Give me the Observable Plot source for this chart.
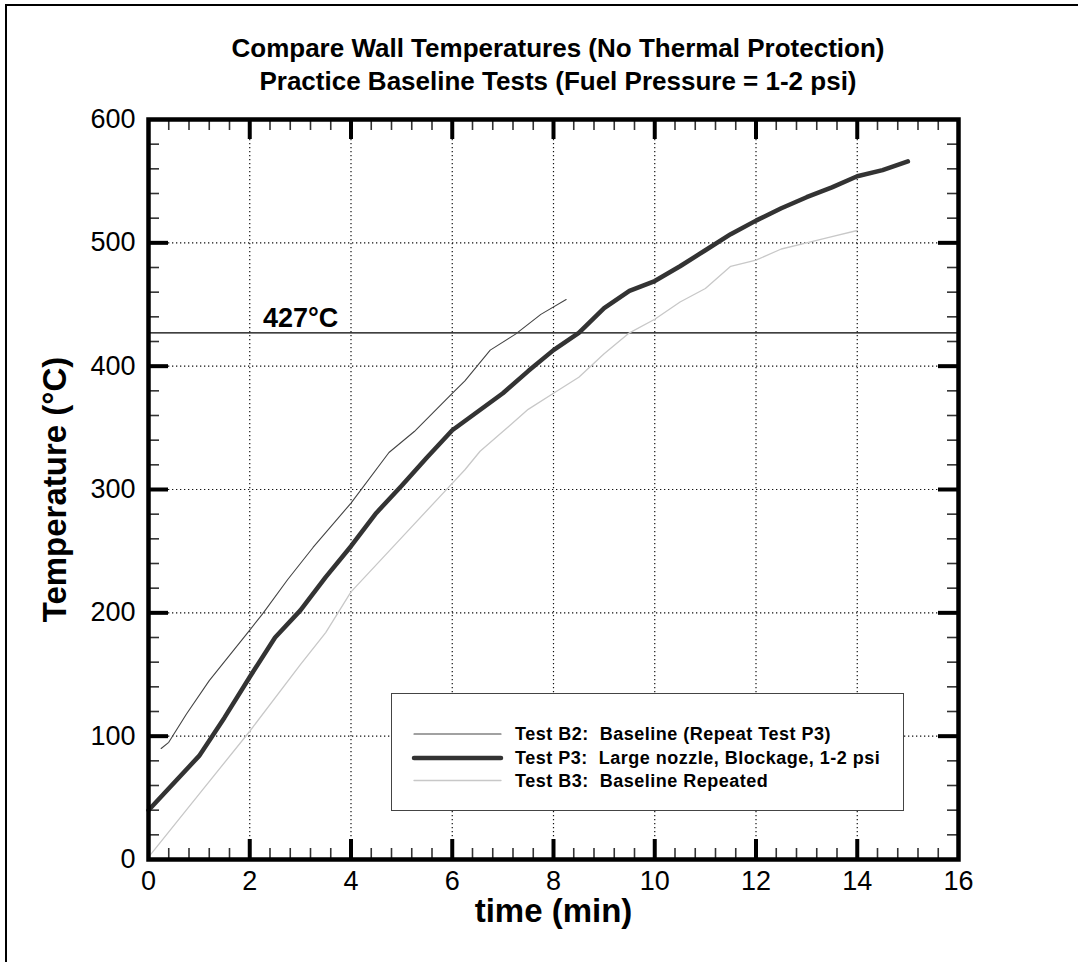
<!DOCTYPE html>
<html>
<head>
<meta charset="utf-8">
<script src="https://cdn.jsdelivr.net/npm/d3@7"></script>
<script src="https://cdn.jsdelivr.net/npm/@observablehq/plot@0.6"></script>
<style>
  html, body { margin: 0; padding: 0; background: #fff; }
  body { font-family: "Liberation Sans", Arial, sans-serif; }
  #wrap { position: relative; width: 1078px; height: 962px; overflow: hidden; background: #fff; }
  #frame { position: absolute; left: 5px; top: 4px; width: 1200px; height: 1200px;
           border-left: 2.5px solid #000; border-top: 2.5px solid #000; box-sizing: border-box; }
  #title { position: absolute; left: 0; top: 32px; width: 1116px; text-align: center;
           font-weight: bold; font-size: 26px; line-height: 33px; color: #000; }
  #chart { position: absolute; left: 0; top: 100px; }
  #legend { position: absolute; left: 391px; top: 693px; width: 513px; height: 118px;
            box-sizing: border-box; border: 1.2px solid #444; background: #fff; }
  #legend svg { position: absolute; left: 0; top: 0; }
</style>
</head>
<body>
<div id="wrap">
  <div id="frame"></div>
  <div id="title">Compare Wall Temperatures (No Thermal Protection)<br>Practice Baseline Tests (Fuel Pressure = 1-2 psi)</div>
  <div id="chart"></div>
  <div id="legend"></div>
</div>
<script>
// ---------------- data ----------------
const seriesNames = [
  "Test B2:  Baseline (Repeat Test P3)",
  "Test P3:  Large nozzle, Blockage, 1-2 psi",
  "Test B3:  Baseline Repeated"
];

const b2Time = [0.25, 0.4, 0.75, 1.2, 2, 2.25, 2.75, 3.25, 3.75, 4, 4.75, 5.25, 6, 6.25, 6.75, 7.25, 7.75, 8.25];
const b2Temp = [90, 95, 118, 145, 186, 199, 227, 253, 277, 289, 330, 347, 378, 388, 413, 426, 442, 454];

const p3Time = [0, 1, 1.5, 2, 2.5, 3, 3.5, 4, 4.5, 5, 5.5, 6, 6.5, 7, 7.5, 8, 8.5, 9, 9.5, 10, 10.5, 11, 11.5, 12, 12.5, 13, 13.5, 14, 14.5, 15];
const p3Temp = [40, 84, 115, 148, 180, 202, 229, 254, 281, 303, 326, 348, 363, 378, 396, 413, 427, 447, 461, 469, 481, 494, 507, 518, 528, 537, 545, 554, 559, 566];

const b3Time = [0, 1, 2, 3, 3.5, 4, 5, 6, 6.25, 6.55, 7, 7.5, 8, 8.5, 9, 9.5, 10, 10.5, 11, 11.5, 12, 12.5, 13, 13.5, 14];
const b3Temp = [2, 53, 104, 158, 184, 217, 261, 305, 316, 331, 347, 365, 378, 391, 410, 427, 438, 452, 463, 481, 486, 495, 500, 505, 510];

const refTemp = 427;
const refLabelTime = 2.26;

const xTickLabels = [0, 2, 4, 6, 8, 10, 12, 14, 16];
const yTickLabels = [0, 100, 200, 300, 400, 500, 600];
const xMajorInner = [2, 4, 6, 8, 10, 12, 14];
const yMajorInner = [100, 200, 300, 400, 500];
const xMinor = d3.range(0, 41).filter(i => i % 5 !== 0).map(i => i * 0.4);
const yMinor = d3.range(0, 31).filter(i => i % 5 !== 0).map(i => i * 20);

const xLabel = "time (min)";
const yLabel = "Temperature (°C)";

// ---------------- layout ----------------
const W = 1078, H = 862, mL = 148, mR = 120, mT = 19, mB = 103;
const fW = W - mL - mR, fH = H - mT - mB;
const majorLen = 20, minorLen = 11;

const toRows = (t, v) => t.map((d, i) => ({t: d, v: v[i]}));
const b2 = toRows(b2Time, b2Temp);
const p3 = toRows(p3Time, p3Temp);
const b3 = toRows(b3Time, b3Temp);

const grid = {stroke: "#111", strokeWidth: 1.2, strokeDasharray: "1.3,2.7"};

const chart = Plot.plot({
  width: W, height: H,
  marginLeft: mL, marginRight: mR, marginTop: mT, marginBottom: mB,
  style: {fontFamily: "'Liberation Sans', Arial, sans-serif", background: "transparent", color: "#000"},
  x: {domain: [0, 16], axis: null},
  y: {domain: [0, 600], axis: null},
  marks: [
    // grid
    Plot.ruleX(xMajorInner, {x: d => d, ...grid}),
    Plot.ruleY(yMajorInner, {y: d => d, ...grid}),
    // reference line
    Plot.ruleY([refTemp], {y: d => d, stroke: "#000", strokeWidth: 1.3}),
    // series
    Plot.line(b3, {x: "t", y: "v", stroke: "#c8c8c8", strokeWidth: 1.3, strokeLinejoin: "round"}),
    Plot.line(b2, {x: "t", y: "v", stroke: "#444", strokeWidth: 1.1, strokeLinejoin: "round"}),
    Plot.line(p3, {x: "t", y: "v", stroke: "#333", strokeWidth: 4.5, strokeLinejoin: "round", strokeLinecap: "round"}),
    // minor ticks
    Plot.ruleX(xMinor, {x: d => d, insetTop: fH - minorLen, stroke: "#333", strokeWidth: 1.6}),
    Plot.ruleX(xMinor, {x: d => d, insetBottom: fH - minorLen, stroke: "#333", strokeWidth: 1.6}),
    Plot.ruleY(yMinor, {y: d => d, insetRight: fW - minorLen, stroke: "#333", strokeWidth: 1.6}),
    Plot.ruleY(yMinor, {y: d => d, insetLeft: fW - minorLen, stroke: "#333", strokeWidth: 1.6}),
    // major ticks
    Plot.ruleX(xMajorInner, {x: d => d, insetTop: fH - majorLen, stroke: "#000", strokeWidth: 4}),
    Plot.ruleX(xMajorInner, {x: d => d, insetBottom: fH - majorLen, stroke: "#000", strokeWidth: 4}),
    Plot.ruleY(yMajorInner, {y: d => d, insetRight: fW - majorLen, stroke: "#000", strokeWidth: 4}),
    Plot.ruleY(yMajorInner, {y: d => d, insetLeft: fW - majorLen, stroke: "#000", strokeWidth: 4}),
    // frame
    Plot.frame({stroke: "#000", strokeWidth: 4.5}),
    // tick labels
    Plot.text(xTickLabels, {x: d => d, text: d => String(d), frameAnchor: "bottom", textAnchor: "middle", lineAnchor: "bottom", dy: 30, fontSize: 27, fill: "#000"}),
    Plot.text(yTickLabels, {y: d => d, text: d => String(d), frameAnchor: "left", textAnchor: "end", dx: -13, fontSize: 27, fill: "#000"}),
    // reference label
    Plot.text([{t: refLabelTime, v: refTemp}], {x: "t", y: "v", text: d => `${d.v}°C`, textAnchor: "start", lineAnchor: "bottom", dy: -6, fontSize: 27, fontWeight: "bold", fill: "#000"}),
    // axis labels
    Plot.text([xLabel], {text: d => d, frameAnchor: "bottom", textAnchor: "middle", lineAnchor: "bottom", dy: 62, fontSize: 33, fontWeight: "bold", fill: "#000"}),
    Plot.text([yLabel], {text: d => d, frameAnchor: "left", textAnchor: "middle", dx: -93, rotate: -90, fontSize: 33, fontWeight: "bold", fill: "#000"})
  ]
});
document.getElementById("chart").appendChild(chart);

// ---------------- legend ----------------
const legendStyles = [
  {stroke: "#444", width: 1.1},
  {stroke: "#333", width: 4.5},
  {stroke: "#c8c8c8", width: 1.3}
];
const rowY = [40, 64, 86.5];
const ns = "http://www.w3.org/2000/svg";
const lsvg = document.createElementNS(ns, "svg");
lsvg.setAttribute("width", 513);
lsvg.setAttribute("height", 118);
seriesNames.forEach((name, i) => {
  const ln = document.createElementNS(ns, "line");
  ln.setAttribute("x1", 22); ln.setAttribute("x2", 109);
  ln.setAttribute("y1", rowY[i]); ln.setAttribute("y2", rowY[i]);
  ln.setAttribute("stroke", legendStyles[i].stroke);
  ln.setAttribute("stroke-width", legendStyles[i].width);
  ln.setAttribute("stroke-linecap", "round");
  lsvg.appendChild(ln);
  const tx = document.createElementNS(ns, "text");
  tx.setAttribute("x", 123);
  tx.setAttribute("y", rowY[i] + 6.3);
  tx.setAttribute("font-family", "'Liberation Sans', Arial, sans-serif");
  tx.setAttribute("font-size", 18);
  tx.setAttribute("font-weight", "bold");
  tx.setAttribute("letter-spacing", "0.5");
  tx.style.whiteSpace = "pre";
  tx.textContent = name;
  lsvg.appendChild(tx);
});
document.getElementById("legend").appendChild(lsvg);
</script>
</body>
</html>
